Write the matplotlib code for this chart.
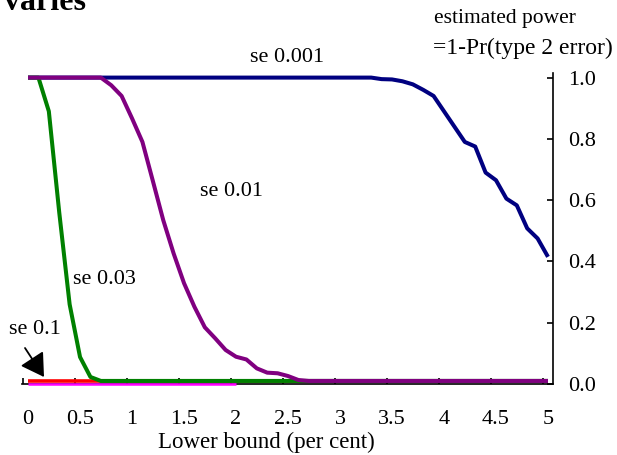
import matplotlib
matplotlib.use('Agg')
import matplotlib.pyplot as plt
import numpy as np

plt.rcParams['font.family'] = ['Liberation Serif', 'DejaVu Serif']

# lower bound categories, 0 to 5 per cent in steps of 0.1
lower_bound = np.round(np.arange(0, 5.05, 0.1), 1)

# estimated power per standard error
se_0001 = [1.0] * 34 + [0.995, 0.994, 0.988, 0.978, 0.96, 0.94, 0.89, 0.84, 0.79,
                        0.775, 0.69, 0.665, 0.605, 0.583, 0.508, 0.475, 0.415]
se_001 = [1.0] * 8 + [0.975, 0.94, 0.867, 0.79, 0.663, 0.535, 0.426, 0.329, 0.252,
                      0.185, 0.149, 0.111, 0.089, 0.08, 0.051, 0.037, 0.035, 0.026,
                      0.013] + [0.01] * 24
se_003 = [1.0, 1.0, 0.89, 0.56, 0.26, 0.088, 0.023] + [0.01] * 44
se_01 = [0.01] * 51
baseline = [0.0] * 21   # magenta line up to 2.0

y_ticks = [0.0, 0.2, 0.4, 0.6, 0.8, 1.0]
x_labels = [0, 0.5, 1, 1.5, 2, 2.5, 3, 3.5, 4, 4.5, 5]

W, H = 617, 455


def px(x, y):
    # pixel position (from top-left) -> figure fraction
    return x / W, 1 - y / H


fig = plt.figure(figsize=(6.17, 4.55), dpi=100)
ax = fig.add_axes([21.8 / W, 1 - 384 / H, (553.2 - 21.8) / W, (384 - 73) / H])

ax.plot(lower_bound[:21], baseline, color='#FF00FF', lw=1.8, clip_on=False, zorder=3,
        solid_capstyle='butt')
ax.plot(lower_bound, se_01, color='#FF0000', lw=2.6, clip_on=False, zorder=4,
        solid_capstyle='butt')
ax.plot(lower_bound, se_0001, color='#000080', lw=2.9, clip_on=False, zorder=5,
        solid_capstyle='butt')
ax.plot(lower_bound, se_003, color='#008000', lw=2.9, clip_on=False, zorder=6,
        solid_capstyle='butt')
ax.plot(lower_bound, se_001, color='#800080', lw=2.9, clip_on=False, zorder=7,
        solid_capstyle='butt')

ax.set_xlim(-0.06, 5.05)
ax.set_ylim(0, 1.015)

for s in ['left', 'top']:
    ax.spines[s].set_visible(False)
for s in ['right', 'bottom']:
    ax.spines[s].set_linewidth(1.2)

# y axis on the right, ticks pointing in
ax.yaxis.tick_right()
ax.set_yticks(y_ticks)
ax.set_yticklabels(['%.1f' % v for v in y_ticks])
ax.tick_params(axis='y', direction='in', length=4, width=1.2, pad=11, labelsize=16)

# x labels at the categories, tick marks between categories
ax.set_xticks(x_labels)
ax.set_xticklabels([str(v) for v in x_labels])
ax.set_xticks([v - 0.05 for v in x_labels], minor=True)
ax.tick_params(axis='x', which='major', length=0, pad=19, labelsize=16)
ax.tick_params(axis='x', which='minor', direction='in', length=4, width=1.2)

fig.text(*px(266, 442), 'Lower bound (per cent)', fontsize=16.5, ha='center', va='center')

fig.text(*px(4, 10), 'varies', fontsize=23, fontweight='bold', ha='left', va='baseline')
fig.text(*px(434, 18), 'estimated power', fontsize=15.5, ha='left', va='center')
fig.text(*px(433, 48), '=1-Pr(type 2 error)', fontsize=17, ha='left', va='center')

fig.text(*px(287, 57), 'se 0.001', fontsize=16, ha='center', va='center')
fig.text(*px(231, 192), 'se 0.01', fontsize=16, ha='center', va='center')
fig.text(*px(104, 279), 'se 0.03', fontsize=16, ha='center', va='center')
fig.text(*px(35, 329), 'se 0.1', fontsize=16, ha='center', va='center')

ax.annotate('', xy=(44, H - 377), xytext=(25, H - 348),
            xycoords='figure pixels', textcoords='figure pixels',
            arrowprops=dict(arrowstyle='-|>,head_length=1.0,head_width=0.6',
                            mutation_scale=14, lw=1.3, color='black',
                            shrinkA=0, shrinkB=0))

fig.savefig('out.png', dpi=100)
